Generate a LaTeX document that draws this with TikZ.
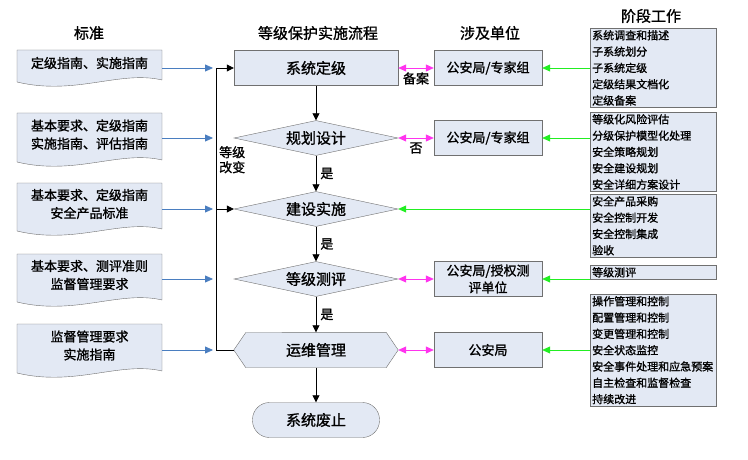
\documentclass[tikz,border=0pt]{standalone}
\usepackage{fontspec}
\setmainfont{Noto Sans CJK SC}[FakeBold=1.2]
\usetikzlibrary{shapes.geometric,positioning,arrows.meta}
\definecolor{boxfill}{HTML}{E3E9F4}
\definecolor{boxline}{HTML}{707070}
\definecolor{stdblue}{HTML}{4A7EC0}
\definecolor{linkpink}{HTML}{FF33EE}
\definecolor{worklime}{HTML}{22EE22}
\tikzset{
  head/.style={font=\fontsize{15}{17}\selectfont},
  stage/.style={draw=boxline, fill=boxfill, minimum width=164pt, minimum height=35pt,
    inner sep=0pt, font=\fontsize{15}{17}\selectfont},
  choice/.style={stage, diamond, aspect=4.7},
  unit/.style={draw=boxline, fill=boxfill, minimum width=108pt, minimum height=35pt,
    inner sep=1pt, align=center, font=\fontsize{13}{17}\selectfont},
  work/.style={draw=boxline, fill=boxfill, minimum width=126pt, text width=122pt,
    inner sep=2pt, align=left, font=\fontsize{11}{16.3}\selectfont},
  doctext/.style={align=center, inner sep=0pt, font=\fontsize{13}{18}\selectfont},
  flow/.style={-{Triangle[length=7pt,width=7pt]}, thick},
  std/.style={draw=stdblue, thick, -{Triangle[length=8pt,width=7pt]}},
  mutual/.style={draw=linkpink, thick, {Triangle[length=8pt,width=7pt]}-{Triangle[length=8pt,width=7pt]}},
  feed/.style={draw=worklime, thick, -{Triangle[length=8pt,width=7pt]}},
  lbl/.style={font=\fontsize{13}{15}\selectfont, inner sep=1pt}
}
% wavy document sheet around a text node
\newcommand{\docsheet}[4]{% name, top, bottom, text
  \node[doctext] (#1) at (89.5,{(#2+#3)/2-4}) {#4};
  \draw[draw=boxline, fill=boxfill] (17,#2) -- (162,#2) -- (162,{#3-4})
    .. controls (120,{#3-14}) and (75,{#3+12}) .. (17,{#3-2}) -- cycle;
  \node[doctext] at (#1) {#4};
}
\begin{document}
\begin{tikzpicture}[x=1pt, y=-1pt]
  \useasboundingbox (0,0) rectangle (748,460);
  % headers
  \node[head] (hstd) at (89,33) {标准};
  \node[head] (hflow) at (318,33) {等级保护实施流程};
  \node[head] (hunit) at (490,33) {涉及单位};
  \node[head] (hwork) at (651,16) {阶段工作};

  % standards
  \docsheet{d1}{50}{84}{定级指南、实施指南}
  \docsheet{d2}{113}{164}{基本要求、定级指南\\实施指南、评估指南}
  \docsheet{d3}{183}{233}{基本要求、定级指南\\安全产品标准}
  \docsheet{d4}{254}{304}{基本要求、测评准则\\监督管理要求}
  \docsheet{d5}{324}{375}{监督管理要求\\实施指南}

  % the flow
  \node[stage] (grade) at (316,68) {系统定级};
  \node[choice] (plan) at (316,138) {规划设计};
  \node[choice] (build) at (316,209) {建设实施};
  \node[choice] (test) at (316,279) {等级测评};
  \node[stage, draw=none, fill=none] (run) at (316,350) {};
  \draw[draw=boxline, fill=boxfill] (run.west) -- ++(12,-17.5) -- ([xshift=-12pt]run.north east)
    -- (run.east) -- ([xshift=-12pt]run.south east) -- ([xshift=12pt]run.south west) -- cycle;
  \node[font=\fontsize{15}{17}\selectfont] at (run) {运维管理};
  \node[stage, rounded corners=17pt, minimum width=127pt] (stop) at (316,420) {系统废止};

  \draw[flow] (grade) -- (plan);
  \draw[flow] (plan) -- node[lbl, right=3pt] {是} (build);
  \draw[flow] (build) -- node[lbl, right=3pt] {是} (test);
  \draw[flow] (test) -- node[lbl, right=3pt] {是} (run);
  \draw[flow] (run) -- (stop);

  % level change loop
  \coordinate (loopb) at (216,350);
  \coordinate (loopt) at (216,68);
  \coordinate (loopm) at (216,209);
  \draw[thick] (run.west) -- (loopb) -- (loopt);
  \draw[flow] (loopt) -- (grade.west);
  \draw[flow] (loopm) -- (build.west);
  \node[lbl, align=left, anchor=north west] (chg) at (218,145) {等级\\改变};

  \foreach \d/\y in {d1/68, d2/138, d3/209, d4/279, d5/350} {
    \draw[std] (162,\y) -- (213,\y);
  }

  % units
  \node[unit] (u1) at (488,68) {公安局/专家组};
  \node[unit] (u2) at (488,138) {公安局/专家组};
  \node[unit] (u3) at (488,279) {公安局/授权测\\评单位};
  \node[unit] (u4) at (488,350) {公安局};
  \draw[mutual] (grade) -- node[lbl, below=3pt] {备案} (u1);
  \draw[mutual] (plan) -- node[lbl, below=3pt] {否} (u2);
  \draw[mutual] (test) -- (u3);
  \draw[mutual] (run) -- (u4);

  % stage work
  \node[work, anchor=north west] (w1) at (590,28) {系统调查和描述\\子系统划分\\子系统定级\\定级结果文档化\\定级备案};
  \node[work, anchor=north west] (w2) at (590,112) {等级化风险评估\\分级保护模型化处理\\安全策略规划\\安全建设规划\\安全详细方案设计};
  \node[work, anchor=north west] (w3) at (590,194) {安全产品采购\\安全控制开发\\安全控制集成\\验收};
  \node[work, anchor=north west] (w4) at (590,265) {等级测评};
  \node[work, anchor=north west] (w5) at (590,294) {操作管理和控制\\配置管理和控制\\变更管理和控制\\安全状态监控\\安全事件处理和应急预案\\自主检查和监督检查\\持续改进};
  \draw[feed] (w1.west |- u1) -- (u1);
  \draw[feed] (w2.west |- u2) -- (u2);
  \draw[feed] (w3.west |- build) -- (build);
  \draw[feed] (w4.west |- u3) -- (u3);
  \draw[feed] (w5.west |- u4) -- (u4);
\end{tikzpicture}
\end{document}
